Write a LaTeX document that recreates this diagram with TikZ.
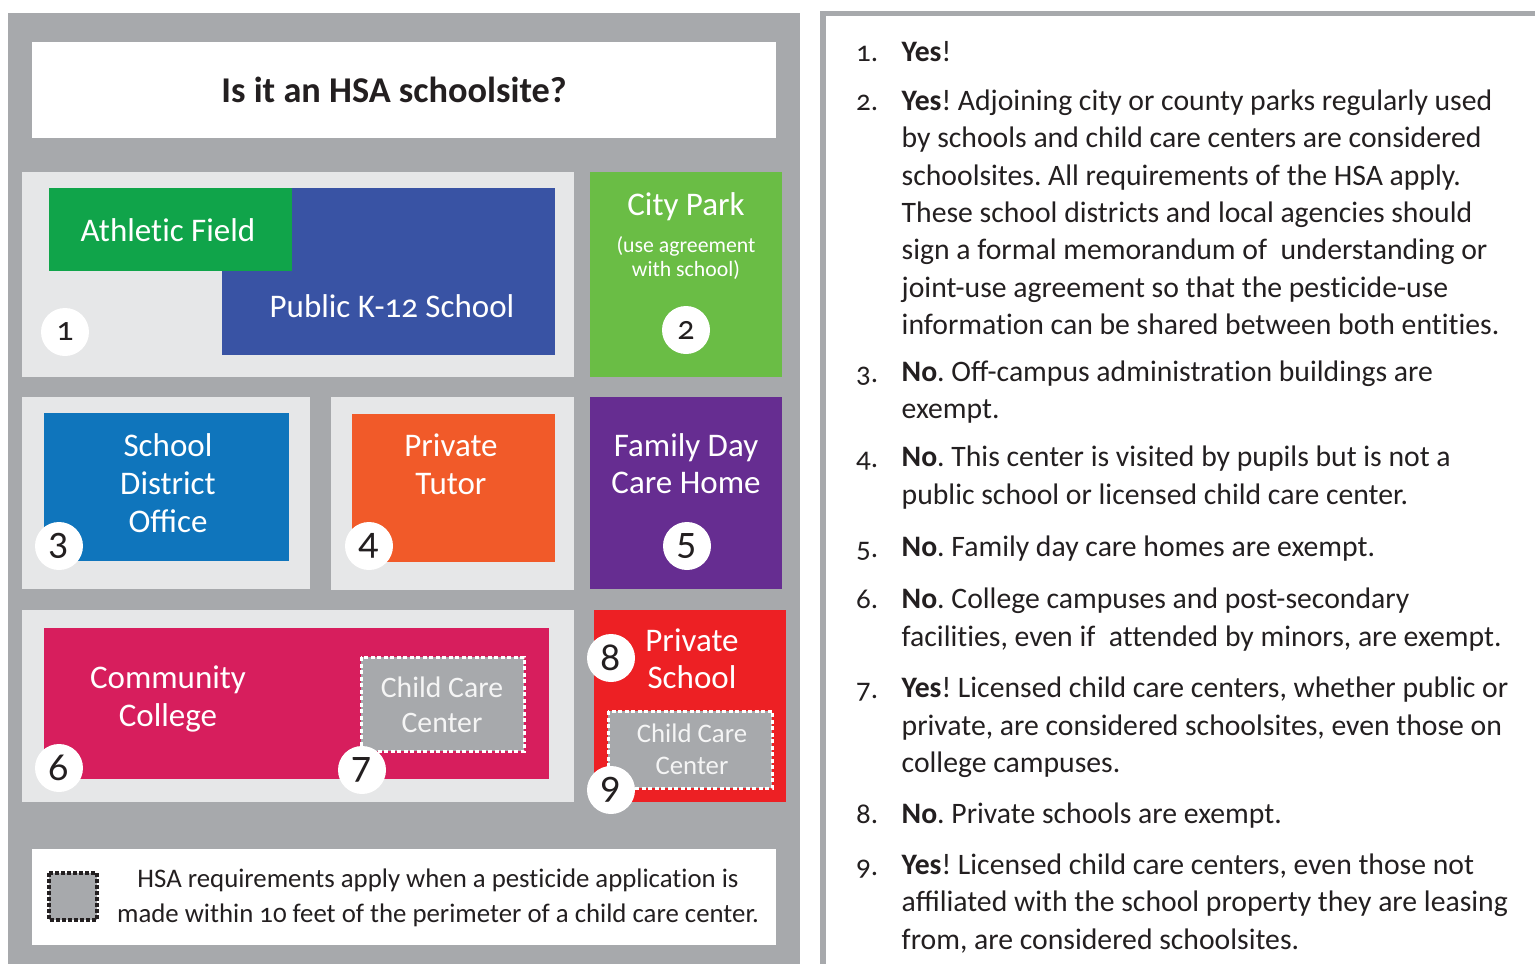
\documentclass[tikz,border=0pt]{standalone}
\usepackage{fontspec}
\setmainfont[Numbers=OldStyle, Ligatures=NoCommon]{Carlito}
\frenchspacing
\definecolor{panelgray}{HTML}{A7A9AC}
\definecolor{lightgray}{HTML}{E6E7E8}
\definecolor{inkblack}{HTML}{231F20}
\definecolor{fieldgreen}{HTML}{10A44A}
\definecolor{schoolblue}{HTML}{3953A4}
\definecolor{parkgreen}{HTML}{6ABD45}
\definecolor{districtblue}{HTML}{0F75BC}
\definecolor{tutororange}{HTML}{F15A29}
\definecolor{dayviolet}{HTML}{662D91}
\definecolor{collegepink}{HTML}{D71E5D}
\definecolor{privatered}{HTML}{ED2024}
\tikzset{
  boxlabel/.style={text=white, align=center, font=\fontsize{33}{38}\selectfont},
  carelabel/.style={text=white!88!panelgray, align=center, font=\fontsize{29.7}{35}\selectfont},
  numdisc/.style={circle, fill=white, minimum size=48pt, inner sep=0pt, text=inkblack, font=\fontsize{40}{44}\selectfont},
  smalldisc/.style={numdisc, font=\fontsize{34}{38}\selectfont},
  itemnum/.style={anchor=base west, inner sep=0pt, text=inkblack, font=\fontsize{29}{36}\selectfont},
  itemline/.style={anchor=base west, inner sep=0pt, text=inkblack, font=\fontsize{29.7}{36}\selectfont},
  carebox/.style={fill=panelgray, draw=white, line width=3pt, dash pattern=on 4pt off 2.5pt},
}
\begin{document}
\begin{tikzpicture}[x=1pt, y=-1pt]
    \useasboundingbox (0,0) rectangle (1535,964);

    % Left panel
    \fill[panelgray] (8,13) rectangle (800,964);
    \fill[white] (32,42) rectangle (776,138);
    \node (title) at (394,90) [text=inkblack, font=\fontsize{36.3}{40}\selectfont\bfseries] {Is it an HSA schoolsite?};

    % Public school and city park
    \fill[lightgray] (22,172) rectangle (574,377);
    \fill[schoolblue] (222,188) rectangle (555,355);
    \fill[fieldgreen] (49,188) rectangle (292,271);
    \node (field) at (168,230) [boxlabel] {Athletic Field};
    \node (school) at (392,306) [boxlabel] {Public K-12 School};
    \fill[parkgreen] (590,172) rectangle (782,377);
    \node (park) at (686,207) [boxlabel] {City Park};
    \node (parknote) at (686,258) [boxlabel, font=\fontsize{21.8}{24.5}\selectfont] {(use agreement\\with school)};

    % Middle row
    \fill[lightgray] (22,397) rectangle (310,589);
    \fill[districtblue] (44,413) rectangle (289,561);
    \node (district) at (168,483) [boxlabel] {School\\District\\Oﬃce};
    \fill[lightgray] (331,397) rectangle (574,590);
    \fill[tutororange] (352,414) rectangle (555,562);
    \node (tutor) at (451,464) [boxlabel] {Private\\Tutor};
    \fill[dayviolet] (590,397) rectangle (782,589);
    \node (dayhome) at (686,464) [boxlabel, font=\fontsize{33}{37}\selectfont] {Family Day\\Care Home};

    % College and private school
    \fill[lightgray] (22,610) rectangle (574,802);
    \fill[collegepink] (44,628) rectangle (549,779);
    \node (college) at (168,699) [boxlabel] {Community\\College};
    \draw[carebox] (361,657) rectangle (524,751);
    \node (care1) at (442,705) [carelabel] {Child Care\\Center};
    \fill[privatered] (594,610) rectangle (786,802);
    \node (private) at (692,659) [boxlabel, font=\fontsize{33}{37}\selectfont] {Private\\School};
    \draw[carebox] (608,711) rectangle (772,788);
    \node (care2) at (692,749) [carelabel, font=\fontsize{26.8}{32}\selectfont] {Child Care\\Center};

    % Numbered discs
    \node (disc1) at (65,332) [smalldisc] {1};
    \node (disc2) at (686,330) [smalldisc] {2};
    \foreach \xpos/\ypos/\num in {59/546/3, 369/546/4, 687/546/5,
                                  59/768/6, 362/770/7, 611/658/8, 611/790/9}
        \node (disc\num) at (\xpos,\ypos) [numdisc] {\num};

    % Legend
    \fill[white] (32,849) rectangle (776,945);
    \draw[fill=panelgray, draw=inkblack, line width=3.2pt, dash pattern=on 4pt off 2pt] (49,873) rectangle (97,920);
    \node (legend) at (438,897.5) [text=inkblack, align=center, font=\fontsize{26.8}{35}\selectfont]
        {HSA requirements apply when a pesticide application is\\made within 10 feet of the perimeter of a child care center.};

    % Right panel
    \fill[panelgray] (820,11) rectangle (1535,16);
    \fill[panelgray] (820,11) rectangle (826,964);

    \foreach \ypos/\num in {61/1, 110/2, 382/3, 467/4, 557/5, 608/6, 698/7, 823/8, 875/9}
        \node (item\num) at (856,\ypos) [itemnum] {\num.};

    \foreach \ypos/\linetext in {
        61/{\textbf{Yes}!},
        110/{\textbf{Yes}! Adjoining city or county parks regularly used},
        147/{by schools and child care centers are considered},
        185/{schoolsites. All requirements of the HSA apply.},
        222/{These school districts and local agencies should},
        259/{sign a formal memorandum of\ \ understanding or},
        297/{joint-use agreement so that the pesticide-use},
        334/{information can be shared between both entities.},
        381/{\textbf{No}. Oﬀ-campus administration buildings are},
        418/{exempt.},
        466/{\textbf{No}. This center is visited by pupils but is not a},
        504/{public school or licensed child care center.},
        556/{\textbf{No}. Family day care homes are exempt.},
        608/{\textbf{No}. College campuses and post-secondary},
        646/{facilities, even if\ \ attended by minors, are exempt.},
        697/{\textbf{Yes}! Licensed child care centers, whether public or},
        735/{private, are considered schoolsites, even those on},
        772/{college campuses.},
        823/{\textbf{No}. Private schools are exempt.},
        874/{\textbf{Yes}! Licensed child care centers, even those not},
        911/{aﬃliated with the school property they are leasing},
        949/{from, are considered schoolsites.}}
        \node at (901.5,\ypos) [itemline] {\linetext};
\end{tikzpicture}
\end{document}
